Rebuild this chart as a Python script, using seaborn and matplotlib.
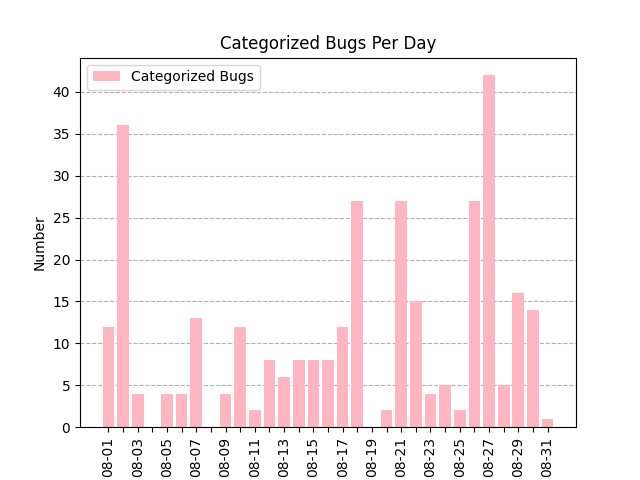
import matplotlib
matplotlib.use("Agg")
import matplotlib.pyplot as plt
import seaborn as sns
import pandas as pd

# Bugs categorized per day in August
days = ["08-01", "08-02", "08-03", "08-04", "08-05", "08-06", "08-07", "08-08",
        "08-09", "08-10", "08-11", "08-12", "08-13", "08-14", "08-15", "08-16",
        "08-17", "08-18", "08-19", "08-20", "08-21", "08-22", "08-23", "08-24",
        "08-25", "08-26", "08-27", "08-28", "08-29", "08-30", "08-31"]
bugs = [12, 36, 4, 0, 4, 4, 13, 0, 4, 12, 2, 8, 6, 8, 8, 8,
        12, 27, 0, 2, 27, 15, 4, 5, 2, 27, 42, 5, 16, 14, 1]

df = pd.DataFrame({"Day": days, "Bugs": bugs})

fig, ax = plt.subplots(figsize=(6.4, 4.8), dpi=100)
sns.barplot(data=df, x="Day", y="Bugs", color="lightpink", saturation=1,
            width=0.8, linewidth=0, label="Categorized Bugs", ax=ax)

n = len(days)
span = (n - 1) + 0.8
ax.set_xlim(-0.4 - 0.05 * span, n - 1 + 0.4 + 0.05 * span)
ax.set_ylim(0, max(bugs) * 1.05)

# label every other day, rotated
ax.set_xticks(range(n))
ax.set_xticklabels([d if i % 2 == 0 else "" for i, d in enumerate(days)], rotation=90)

ax.set_axisbelow(True)
ax.yaxis.grid(True, linestyle="--", color="#b0b0b0")
ax.set_xlabel("")
ax.set_ylabel("Number")
ax.set_title("Categorized Bugs Per Day")
ax.legend(loc="upper left")

plt.savefig("out.png")
